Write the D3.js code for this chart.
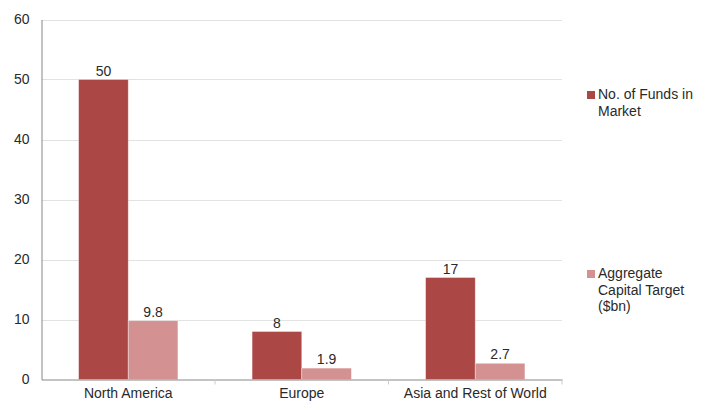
<!DOCTYPE html>
<html><head><meta charset="utf-8">
<script src="https://cdn.jsdelivr.net/npm/d3@7"></script>
<style>body{margin:0;background:#fff}svg{display:block}text{font-family:"Liberation Sans",Arial,sans-serif;fill:#2a2a2a}</style>
</head><body><div id="chart"></div>
<script>
const categories = ["North America", "Europe", "Asia and Rest of World"];
const seriesNames = ["No. of Funds in Market", "Aggregate Capital Target ($bn)"];
const fundsInMarket = [50, 8, 17];
const capitalTarget = [9.8, 1.9, 2.7];
const yTicks = [0, 10, 20, 30, 40, 50, 60];
const legendLines = [["No. of Funds in", "Market"], ["Aggregate", "Capital Target", "($bn)"]];
const colors = ["#ab4744", "#d39291"];

const W = 706, H = 402;
const m = {left: 41.5, right: 144, top: 19.5, bottom: 22.5};
const svg = d3.select("#chart").append("svg").attr("width", W).attr("height", H);
const x = d3.scaleBand().domain(categories).range([m.left, W - m.right]).paddingInner(0).paddingOuter(0);
const y = d3.scaleLinear().domain([0, 60]).range([H - m.bottom, m.top]);
const series = [fundsInMarket, capitalTarget];
const x1 = d3.scaleBand().domain([0, 1]).range([0, x.bandwidth()]).paddingOuter(0.747).paddingInner(0);
const FF = '"Liberation Sans",Arial,sans-serif';

// gridlines
svg.append("g").selectAll("line").data(yTicks.filter(d => d > 0)).join("line")
  .attr("x1", m.left).attr("x2", W - m.right)
  .attr("y1", d => Math.round(y(d)) + 0.5).attr("y2", d => Math.round(y(d)) + 0.5)
  .attr("stroke", "#e2e2e2");

// bars
series.forEach((vals, si) => {
  const g = svg.append("g");
  g.selectAll("rect").data(vals).join("rect")
    .attr("x", (d, i) => x(categories[i]) + x1(si))
    .attr("width", x1.bandwidth())
    .attr("y", d => y(d))
    .attr("height", d => y(0) - y(d))
    .attr("fill", colors[si])
    .attr("stroke", "rgba(255,255,255,0.45)").attr("stroke-width", 0.8);
  g.selectAll("text").data(vals).join("text")
    .attr("x", (d, i) => x(categories[i]) + x1(si) + x1.bandwidth() / 2)
    .attr("y", d => y(d) - 4)
    .attr("text-anchor", "middle").attr("font-size", 14)
    .text(d => d);
});

// y axis
const yAxis = d3.axisLeft(y).tickValues(yTicks).tickSize(0).tickPadding(12);
const ya = svg.append("g").attr("transform", `translate(${m.left},0)`).call(yAxis);
ya.select(".domain").attr("stroke", "#888");
ya.selectAll("text").attr("font-size", 14).attr("fill", "#2a2a2a").style("font-family", FF);

// x axis
const xa = svg.append("g").attr("transform", `translate(0,${y(0)})`)
  .call(d3.axisBottom(x).tickSize(0).tickPadding(6));
xa.select(".domain").attr("stroke", "#888");
xa.selectAll("text").attr("font-size", 14).attr("fill", "#2a2a2a").attr("dy", "0.9em").style("font-family", FF);
// category boundary ticks
xa.append("g").selectAll("line").data(categories).join("line")
  .attr("x1", (d, i) => x(categories[i]) + x.bandwidth()).attr("x2", (d, i) => x(categories[i]) + x.bandwidth())
  .attr("y1", 0).attr("y2", 5).attr("stroke", "#ccc");

// legend
const legendY = [91, 270];
legendLines.forEach((lines, i) => {
  const g = svg.append("g").attr("transform", `translate(587,${legendY[i]})`);
  g.append("rect").attr("width", 8).attr("height", 8).attr("fill", colors[i]);
  g.append("text").attr("x", 11).attr("y", 8).attr("font-size", 14)
    .selectAll("tspan").data(lines).join("tspan")
    .attr("x", 11).attr("dy", (d, j) => j === 0 ? 0 : 16.5).text(d => d);
});
</script></body></html>
